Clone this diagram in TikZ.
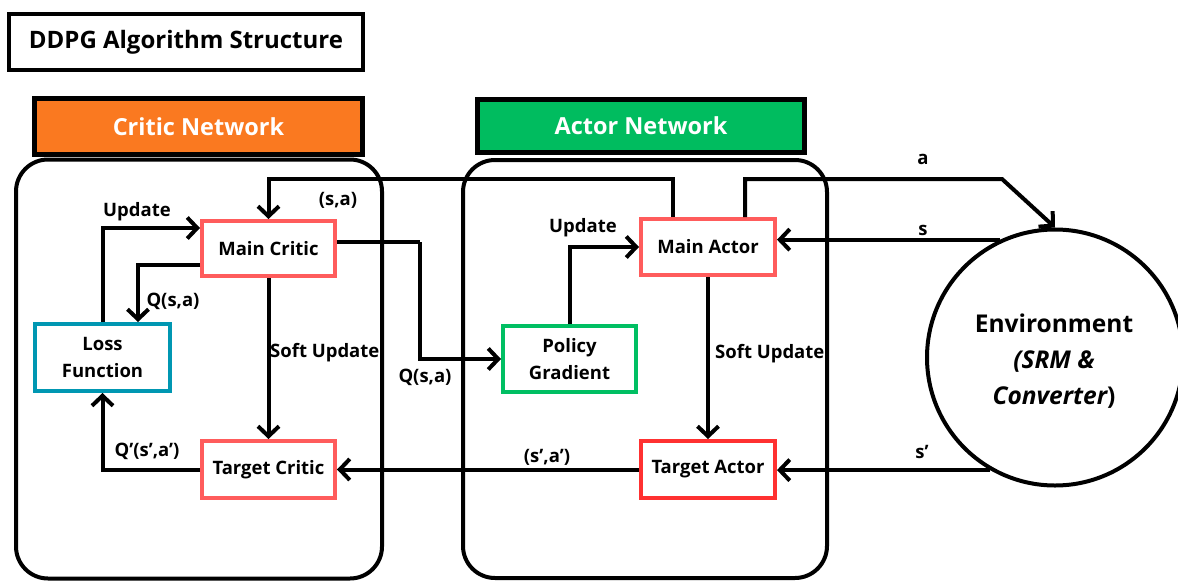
\documentclass[tikz,border=0pt]{standalone}
\usepackage{fontspec}
\setmainfont{Open Sans}
\usetikzlibrary{arrows.meta,shapes.geometric}
\definecolor{orangehead}{RGB}{250,121,32}
\definecolor{greenhead}{RGB}{0,188,95}
\definecolor{softred}{RGB}{255,92,92}
\definecolor{brightred}{RGB}{255,49,49}
\definecolor{pgreen}{RGB}{0,191,99}
\definecolor{teal}{RGB}{0,151,178}
\begin{document}
\begin{tikzpicture}[x=1pt,y=-1pt,
  box/.style={draw, line width=4pt, rectangle, inner sep=0pt, outer sep=2pt,
    align=center, font=\fontsize{18.5}{27}\selectfont\bfseries},
  panel/.style={draw, line width=4pt, rectangle, rounded corners=32pt,
    inner sep=0pt, outer sep=2pt},
  header/.style={draw, line width=5pt, rectangle, inner sep=0pt, outer sep=2.5pt,
    text=white, font=\fontsize{23.5}{28}\selectfont\bfseries},
  arr/.style={line width=4pt, -{Straight Barb[length=10pt,width=21pt]}},
  link/.style={line width=4pt},
  lbl/.style={font=\fontsize{18.5}{22}\selectfont\bfseries, inner sep=0pt}]
\useasboundingbox (0,0) rectangle (1178,581);

% title
\node[draw, line width=4pt, minimum width=354pt, minimum height=56pt, inner sep=0pt,
  font=\fontsize{24}{30}\selectfont\bfseries] (title) at (186,42) {DDPG Algorithm Structure};

% network panels and their headers
\node[panel, minimum width=366pt, minimum height=419pt] (criticpanel) at (199,369) {};
\node[panel, minimum width=364pt, minimum height=418pt] (actorpanel) at (645,369) {};
\node[header, fill=orangehead, minimum width=328pt, minimum height=56pt] (critichead) at (198.5,126.5) {Critic Network};
\node[header, fill=greenhead, minimum width=327pt, minimum height=53pt] (actorhead) at (641,126) {Actor Network};

% blocks
\node[box, draw=softred, minimum width=133pt, minimum height=55pt] (maincritic) at (268.5,248.5) {Main Critic};
\node[box, draw=softred, minimum width=133pt, minimum height=57pt] (targetcritic) at (268.5,469.5) {Target Critic};
\node[box, draw=teal, minimum width=135pt, minimum height=67pt] (loss) at (102.5,357.5) {Loss\\Function};
\node[box, draw=softred, minimum width=134pt, minimum height=56pt] (mainactor) at (708,247) {Main Actor};
\node[box, draw=pgreen, minimum width=133pt, minimum height=66pt] (policy) at (569.5,359) {Policy\\Gradient};
\node[box, draw=brightred, minimum width=134pt, minimum height=57pt] (targetactor) at (708,469.5) {Target Actor};

% environment
\node[draw, circle, line width=4pt, minimum size=256pt, inner sep=0pt, outer sep=2pt] (env) at (1055,357.5) {};
\node[align=center, inner sep=0pt, font=\fontsize{24.5}{36}\selectfont\bfseries] (envtext) at (1054,361)
  {Environment\\{\itshape (SRM \&}\\{\itshape Converter})};

% bend points
\coordinate (sabend) at (268.5,179);
\coordinate (abend) at (1002,179);
\coordinate (qbend) at (420,242);

% connectors
\draw[arr] ([xshift=-35pt]mainactor.north) |- (sabend) -- (maincritic.north);
\draw[arr] ([xshift=37pt]mainactor.north) |- (abend) -- (env.north);
\draw[arr] (env.115) -- (env.115 -| mainactor.east);
\draw[arr] (env.240) -- (env.240 -| targetactor.east);
\draw[arr] (targetactor.west) -- (targetcritic.east);
\draw[arr] (maincritic.south) -- (targetcritic.north);
\draw[arr] (mainactor.south) -- (targetactor.north);
\draw[link] ([yshift=6.5pt]maincritic.east) -- (qbend);
\draw[arr] (qbend) |- (policy.west);
\draw[arr] (policy.north) |- (mainactor.west);
\draw[arr] (loss.north) |- ([yshift=20.5pt]maincritic.west);
\draw[arr] ([yshift=-16.5pt]maincritic.west) -| ([xshift=35.5pt]loss.north);
\draw[arr] (targetcritic.west) -| (loss.south);

% labels
\node[lbl] (lsa) at (338,200) {(s,a)};
\node[lbl] (la) at (923,159) {a};
\node[lbl] (ls) at (923,230) {s};
\node[lbl] (lsp) at (922,452) {s’};
\node[lbl] (lspap) at (547,457) {(s’,a’)};
\node[lbl, anchor=west] (lsoftc) at (270,353) {Soft Update};
\node[lbl, anchor=west] (lsofta) at (715,354) {Soft Update};
\node[lbl] (lqpg) at (425,377) {Q(s,a)};
\node[lbl] (lupa) at (583,228) {Update};
\node[lbl] (lupc) at (137,212) {Update};
\node[lbl] (lqloss) at (173,301) {Q(s,a)};
\node[lbl] (lqp) at (147,451) {Q’(s’,a’)};
\end{tikzpicture}
\end{document}
